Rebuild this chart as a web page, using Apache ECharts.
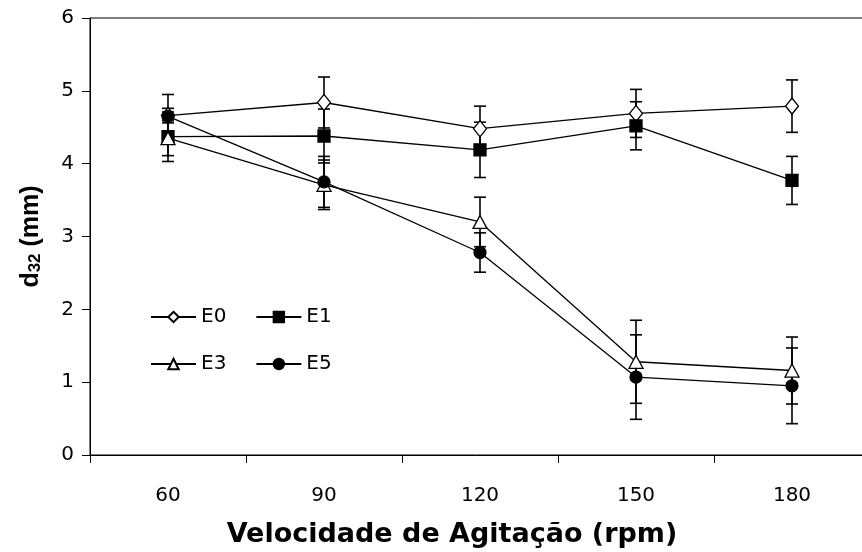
<!DOCTYPE html>
<html>
<head>
<meta charset="utf-8">
<script src="https://cdn.jsdelivr.net/npm/echarts@6/dist/echarts.min.js"></script>
<style>html,body{margin:0;padding:0;background:#fff}#c{width:862px;height:552px}</style>
</head>
<body>
<div id="c"></div>
<script>
const categories = ['60', '90', '120', '150', '180'];
const yTicks = [0, 1, 2, 3, 4, 5, 6];
const E0 = [4.66, 4.84, 4.48, 4.69, 4.79];
const E0err = [0.10, 0.35, 0.31, 0.33, 0.36];
const E1 = [4.37, 4.38, 4.19, 4.52, 3.77];
const E1err = [0.34, 0.37, 0.38, 0.33, 0.33];
const E3 = [4.35, 3.71, 3.20, 1.28, 1.16];
const E3err = [0.24, 0.34, 0.34, 0.57, 0.46];
const E5 = [4.65, 3.75, 2.78, 1.07, 0.95];
const E5err = [0.30, 0.35, 0.27, 0.58, 0.52];

const wideFont = 'DejaVu Sans, Verdana, sans-serif';
const arial = 'Liberation Sans, Arial, sans-serif';

function errSeries(name, vals, errs) {
  return {
    type: 'custom',
    name: name + ' err',
    z: 1,
    silent: true,
    data: vals.map((v, i) => [i, v, errs[i]]),
    renderItem: function (params, api) {
      const i = api.value(0), v = api.value(1), e = api.value(2);
      const top = api.coord([i, v + e]);
      const bot = api.coord([i, v - e]);
      const w = 6;
      const st = { stroke: '#000', lineWidth: 1.6 };
      return {
        type: 'group',
        children: [
          { type: 'line', shape: { x1: top[0], y1: top[1], x2: bot[0], y2: bot[1] }, style: st },
          { type: 'line', shape: { x1: top[0] - w, y1: top[1], x2: top[0] + w, y2: top[1] }, style: st },
          { type: 'line', shape: { x1: bot[0] - w, y1: bot[1], x2: bot[0] + w, y2: bot[1] }, style: st }
        ]
      };
    }
  };
}

function lineSeries(name, vals, symbol, size, filled) {
  return {
    type: 'line',
    name: name,
    data: vals,
    z: 3,
    symbol: symbol,
    symbolSize: size,
    showAllSymbol: true,
    lineStyle: { color: '#000', width: 1.3 },
    itemStyle: { color: filled ? '#000' : '#fff', borderColor: '#000', borderWidth: 1.3 },
    emphasis: { disabled: true },
    animation: false
  };
}

const legendText = { fontFamily: wideFont, fontSize: 20, color: '#000' };

const chart = echarts.init(document.getElementById('c'), null, { renderer: 'canvas' });
chart.setOption({
  animation: false,
  backgroundColor: '#fff',
  grid: { left: 90, width: 780, top: 18, bottom: 97, outerBoundsMode: 'none', containLabel: false,
    show: true, borderColor: '#000', borderWidth: 1, backgroundColor: 'transparent' },
  legend: [
    { data: ['E0', 'E1'], left: 145, top: 302, itemWidth: 45, itemHeight: 13, itemGap: 29,
      textStyle: legendText, selectedMode: false },
    { data: ['E3', 'E5'], left: 145, top: 349, itemWidth: 45, itemHeight: 13, itemGap: 29,
      textStyle: legendText, selectedMode: false }
  ],
  xAxis: {
    type: 'category',
    data: categories,
    boundaryGap: true,
    axisLine: { lineStyle: { color: '#000', width: 1 } },
    axisTick: { show: true, length: 8, inside: false, alignWithLabel: false, lineStyle: { color: '#000' } },
    axisLabel: { color: '#000', fontFamily: wideFont, fontSize: 20, margin: 31 },
    splitLine: { show: false },
    name: 'Velocidade de Agitação (rpm)',
    nameLocation: 'middle',
    nameGap: 66,
    nameTextStyle: { fontFamily: wideFont, fontSize: 27, fontWeight: 'bold', color: '#000', padding: [0, 56, 0, 0] }
  },
  yAxis: {
    type: 'value',
    min: yTicks[0],
    max: yTicks[yTicks.length - 1],
    interval: 1,
    axisLine: { show: true, lineStyle: { color: '#000', width: 1 } },
    axisTick: { show: true, length: 8, lineStyle: { color: '#000' } },
    axisLabel: { color: '#000', fontFamily: wideFont, fontSize: 20, margin: 16 },
    splitLine: { show: false },
    name: '{a|d}{b|32}{a| (mm)}',
    nameLocation: 'middle',
    nameGap: 46,
    nameRotate: 90,
    nameTextStyle: {
      rich: {
        a: { fontFamily: arial, fontSize: 25, fontWeight: 'bold', color: '#000' },
        b: { fontFamily: arial, fontSize: 17, fontWeight: 'bold', color: '#000', verticalAlign: 'bottom', padding: [8, 0, 0, 0] }
      }
    }
  },
  series: [
    errSeries('E0', E0, E0err),
    errSeries('E1', E1, E1err),
    errSeries('E3', E3, E3err),
    errSeries('E5', E5, E5err),
    lineSeries('E0', E0, 'diamond', [13, 16], false),
    lineSeries('E1', E1, 'rect', 12, true),
    lineSeries('E3', E3, 'triangle', [14, 13], false),
    lineSeries('E5', E5, 'circle', 12, true)
  ]
});
</script>
</body>
</html>
